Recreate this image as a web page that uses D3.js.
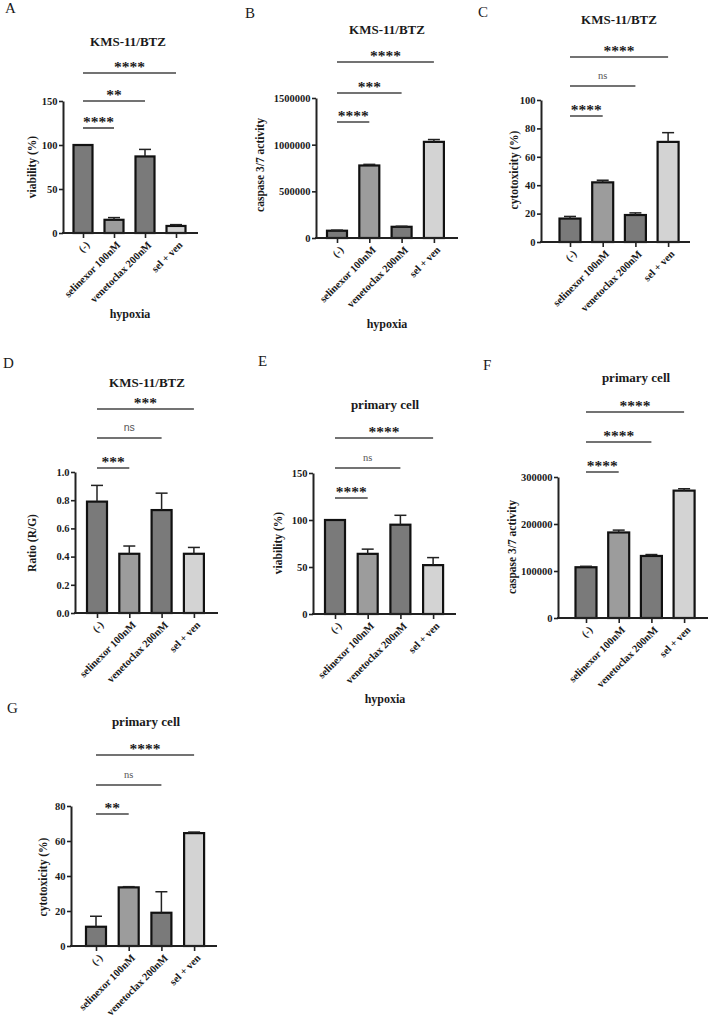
<!DOCTYPE html>
<html><head><meta charset="utf-8">
<script src="https://cdn.jsdelivr.net/npm/d3@7"></script>
<style>
body{margin:0;background:#fff}
text{font-family:"Liberation Serif","Times New Roman",serif}
</style>
</head><body><svg id="c" width="709" height="1021"></svg>
<script>
// ---------------- DATA ----------------
const categories = ["(-)", "selinexor 100nM", "venetoclax 200nM", "sel + ven"];

const valuesA = [100, 15, 87, 8];
const errorsA = [0, 2.5, 8, 1.5];
const ticksA = [0, 50, 100, 150];
const sigA = ["****", "**", "****"];

const valuesB = [78000, 777000, 120000, 1030000];
const errorsB = [6000, 12000, 6000, 25000];
const ticksB = [0, 500000, 1000000, 1500000];
const sigB = ["****", "***", "****"];

const valuesC = [16.5, 42, 19, 70.5];
const errorsC = [1.5, 1.5, 1.5, 6.5];
const ticksC = [0, 20, 40, 60, 80, 100];
const sigC = ["****", "ns", "****"];

const valuesD = [0.79, 0.42, 0.73, 0.42];
const errorsD = [0.115, 0.055, 0.12, 0.045];
const ticksD = [0, 0.2, 0.4, 0.6, 0.8, 1.0];
const sigD = ["***", "ns", "***"];

const valuesE = [100, 64, 95, 52];
const errorsE = [0, 5, 10, 8];
const ticksE = [0, 50, 100, 150];
const sigE = ["****", "ns", "****"];

const valuesF = [108000, 182000, 132000, 271000];
const errorsF = [2000, 5000, 3000, 4000];
const ticksF = [0, 100000, 200000, 300000];
const sigF = ["****", "****", "****"];

const valuesG = [11, 33.5, 19, 64.5];
const errorsG = [6, 0.4, 12, 0.6];
const ticksG = [0, 20, 40, 60, 80];
const sigG = ["****", "ns", "**"];

// comparisons: (-) vs sel+ven, (-) vs venetoclax, (-) vs selinexor
const sigTargets = [3, 2, 1];

// ---------------- LAYOUT ----------------
const barColors = ["#7a7a7a", "#9c9c9c", "#7a7a7a", "#d3d3d3"];
const panels = [
  {letter:"A", lx:5, ly:13, title:"KMS-11/BTZ", tx:128, ty:46, ylab:"viability (%)", ylx:32, yly:167,
   vals:valuesA, errs:errorsA, ticks:ticksA, sig:sigA, fmt:d3.format("d"), nsSans:false,
   axX:63, y0:233, yTop:101, xEnd:198, c0:83, step:31, bw:19, sigY:[73,101,128], hyp:[130,318]},
  {letter:"B", lx:245, ly:18, title:"KMS-11/BTZ", tx:387, ty:34, ylab:"caspase 3/7 activity", ylx:260, yly:165,
   vals:valuesB, errs:errorsB, ticks:ticksB, sig:sigB, fmt:d3.format("d"), nsSans:false,
   axX:316, y0:238, yTop:98, xEnd:458, c0:337, step:32.3, bw:20, sigY:[62,93,122], hyp:[387,328]},
  {letter:"C", lx:478, ly:17, title:"KMS-11/BTZ", tx:619, ty:24, ylab:"cytotoxicity (%)", ylx:514, yly:170,
   vals:valuesC, errs:errorsC, ticks:ticksC, sig:sigC, fmt:d3.format("d"), nsSans:false,
   axX:541, y0:242, yTop:100, xEnd:690, c0:570, step:32.7, bw:21, sigY:[57,86,116], hyp:null},
  {letter:"D", lx:3, ly:368, title:"KMS-11/BTZ", tx:147, ty:387, ylab:"Ratio (R/G)", ylx:32, yly:543,
   vals:valuesD, errs:errorsD, ticks:ticksD, sig:sigD, fmt:d3.format(".1f"), nsSans:true,
   axX:75, y0:613, yTop:472, xEnd:218, c0:97, step:32.3, bw:20, sigY:[409,438,468], hyp:null},
  {letter:"E", lx:258, ly:366, title:"primary cell", tx:385, ty:409, ylab:"viability (%)", ylx:278, yly:543,
   vals:valuesE, errs:errorsE, ticks:ticksE, sig:sigE, fmt:d3.format("d"), nsSans:false,
   axX:313, y0:614, yTop:473, xEnd:456, c0:335, step:32.7, bw:20, sigY:[438,468,498], hyp:[385,703]},
  {letter:"F", lx:483, ly:370, title:"primary cell", tx:636, ty:382, ylab:"caspase 3/7 activity", ylx:512, yly:547,
   vals:valuesF, errs:errorsF, ticks:ticksF, sig:sigF, fmt:d3.format("d"), nsSans:false,
   axX:558, y0:618, yTop:477, xEnd:708, c0:586, step:32.7, bw:21, sigY:[412,442,472], hyp:null},
  {letter:"G", lx:7, ly:713, title:"primary cell", tx:146, ty:726, ylab:"cytotoxicity (%)", ylx:43, yly:877,
   vals:valuesG, errs:errorsG, ticks:ticksG, sig:sigG, fmt:d3.format("d"), nsSans:false,
   axX:71, y0:946, yTop:806, xEnd:217, c0:96, step:32.7, bw:20, sigY:[755,785,814], hyp:null}
];

const svg = d3.select("#c");
const ink = "#1a1a1a";

panels.forEach(p => {
  const g = svg.append("g");
  const y = d3.scaleLinear().domain([0, p.ticks[p.ticks.length-1]]).range([p.y0, p.yTop]);
  const x = d3.scalePoint().domain(categories).range([p.c0, p.c0 + 3*p.step]);

  // panel letter
  g.append("text").attr("x", p.lx).attr("y", p.ly).attr("font-size", 15).attr("fill", ink).text(p.letter);
  // title
  g.append("text").attr("x", p.tx).attr("y", p.ty).attr("text-anchor", "middle")
    .attr("font-size", 13).attr("font-weight", "bold").attr("fill", ink).text(p.title);
  // y label
  g.append("text").attr("transform", `translate(${p.ylx},${p.yly}) rotate(-90)`)
    .attr("text-anchor", "middle").attr("dy", "0.35em")
    .attr("font-size", 11.5).attr("font-weight", "bold").attr("fill", ink).text(p.ylab);

  // bars
  g.selectAll("rect.bar").data(p.vals).join("rect")
    .attr("x", (d,i) => x(categories[i]) - p.bw/2)
    .attr("y", d => y(d))
    .attr("width", p.bw)
    .attr("height", d => p.y0 - y(d))
    .attr("fill", (d,i) => barColors[i])
    .attr("stroke", "#111").attr("stroke-width", 2.2);

  // error bars (upper only)
  p.vals.forEach((v,i) => {
    const e = p.errs[i];
    if (!e) return;
    const cx = x(categories[i]);
    g.append("line").attr("x1", cx).attr("x2", cx).attr("y1", y(v)).attr("y2", y(v+e))
      .attr("stroke", "#222").attr("stroke-width", 1.5);
    g.append("line").attr("x1", cx-6).attr("x2", cx+6).attr("y1", y(v+e)).attr("y2", y(v+e))
      .attr("stroke", "#222").attr("stroke-width", 1.5);
  });

  // y axis
  const ya = g.append("g").attr("transform", `translate(${p.axX},0)`)
    .call(d3.axisLeft(y).tickValues(p.ticks).tickFormat(p.fmt).tickSize(4).tickSizeOuter(0).tickPadding(1.5));
  ya.select(".domain").attr("stroke", "#222").attr("stroke-width", 2);
  ya.selectAll(".tick line").attr("stroke", "#222").attr("stroke-width", 1.6);
  ya.selectAll(".tick text").attr("font-family", "Liberation Serif, serif").attr("font-size", 10.5)
    .attr("font-weight", "bold").attr("fill", ink);

  // x axis
  g.append("line").attr("x1", p.axX - 1).attr("x2", p.xEnd).attr("y1", p.y0).attr("y2", p.y0)
    .attr("stroke", "#222").attr("stroke-width", 2);
  const xa = g.append("g").attr("transform", `translate(0,${p.y0})`)
    .call(d3.axisBottom(x).tickSize(5).tickSizeOuter(0));
  xa.select(".domain").remove();
  xa.selectAll(".tick line").attr("stroke", "#222").attr("stroke-width", 1.6);
  xa.selectAll(".tick text")
    .attr("font-family", "Liberation Serif, serif").attr("font-size", 10.5).attr("font-weight", "bold")
    .attr("fill", ink)
    .attr("text-anchor", "end")
    .attr("transform", "translate(4,10) rotate(-45)")
    .attr("y", 0).attr("x", 0).attr("dy", "0.35em");

  // significance
  p.sig.forEach((s, k) => {
    const x1 = x(categories[0]), x2 = x(categories[sigTargets[k]]);
    const ly = p.sigY[k];
    g.append("line").attr("x1", x1).attr("x2", x2).attr("y1", ly).attr("y2", ly)
      .attr("stroke", "#444").attr("stroke-width", 1.6);
    const t = g.append("text").attr("x", (x1+x2)/2).attr("text-anchor", "middle").text(s);
    if (s === "ns") {
      t.attr("y", ly - 7).attr("font-size", 10.5).attr("fill", "#555");
      if (p.nsSans) t.style("font-family", "Liberation Sans, Arial, sans-serif");
    } else {
      t.attr("y", ly - 1).attr("font-size", 15.5).attr("font-weight", "bold").attr("fill", ink);
    }
  });

  // hypoxia
  if (p.hyp) {
    g.append("text").attr("x", p.hyp[0]).attr("y", p.hyp[1]).attr("text-anchor", "middle")
      .attr("font-size", 12).attr("font-weight", "bold").attr("fill", ink).text("hypoxia");
  }
});
</script>
</body></html>
